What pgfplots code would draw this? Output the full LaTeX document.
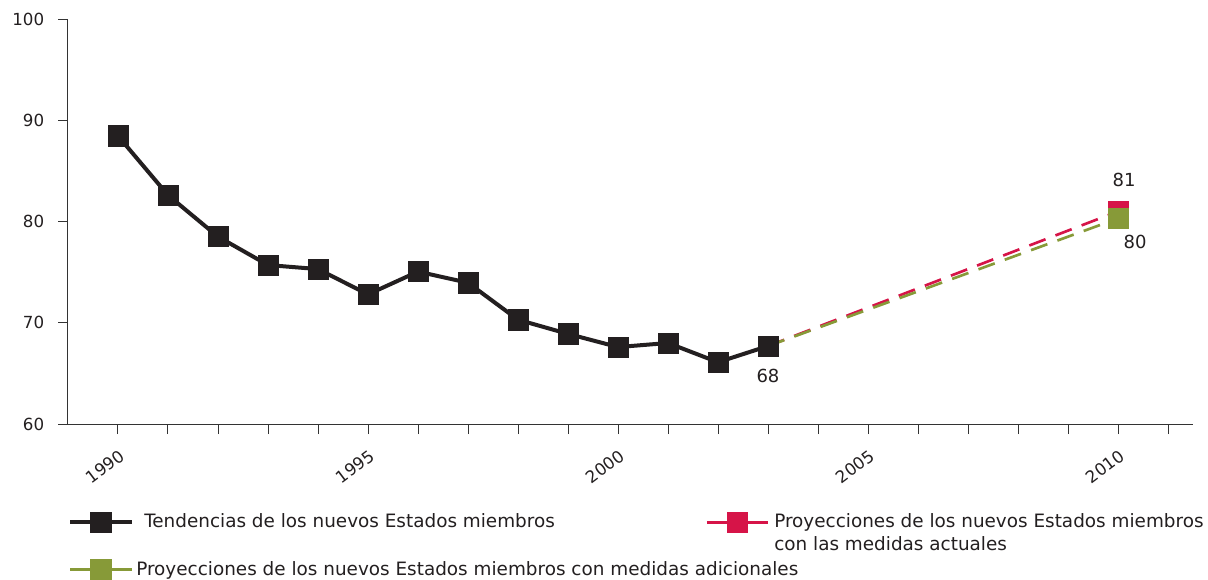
\documentclass[border=0pt]{standalone}
\usepackage{fontspec}
\setmainfont{DejaVu Sans}
\usepackage{pgfplots}
\pgfplotsset{compat=1.18}
\definecolor{ser1}{RGB}{35,31,32}
\definecolor{ser2}{RGB}{214,20,72}
\definecolor{ser3}{RGB}{135,154,56}
\definecolor{txt}{RGB}{35,31,32}
\begin{document}
\fontsize{12.5}{17}\selectfont
\begin{tikzpicture}
\begin{axis}[
 scale only axis, width=843.75pt, height=303.75pt,
 xmin=1989, xmax=2011.5, ymin=60, ymax=100,
 axis lines=left,
 axis line style={-, draw=black!80, line width=0.75pt},
 tick style={draw=black!80, line width=0.75pt},
 tick align=outside, major tick length=7.5pt, minor tick length=7.5pt,
 xtick={1990,1995,2000,2005,2010},
 xticklabels={1990,1995,2000,2005,2010},
 minor xtick={1991,1992,1993,1994,1996,1997,1998,1999,2001,2002,2003,2004,2006,2007,2008,2009,2011},
 ytick={60,70,80,90,100},
 /pgf/number format/assume math mode=true,
 ticklabel style={font=\fontsize{12.5}{15}\selectfont, text=txt},
 xticklabel style={xshift=1pt, yshift=-5pt, rotate=37, anchor=north east},
 yticklabel style={xshift=-6pt},
 clip=false,
 legend columns=2,
 legend cell align=left,
 legend style={at={(axis description cs:0,-0.215)}, anchor=north west,
   draw=none, fill=none, font=\fontsize{13.8}{17.25}\selectfont, text=txt,
   column sep=0pt, row sep=19pt, inner sep=0pt},
 legend image code/.code={\draw[#1,mark indices={2},solid] plot coordinates {(0pt,0pt) (23pt,0pt) (46pt,0pt)};},
]
\addplot[ser1, line width=3pt, mark=square*, mark size=7.6pt, mark options={solid,line width=0.5pt}]
 coordinates {(1990,88.45) (1991,82.6) (1992,78.5) (1993,75.7) (1994,75.3) (1995,72.8)
 (1996,75.05) (1997,73.95) (1998,70.3) (1999,68.9) (2000,67.6) (2001,68.0) (2002,66.1) (2003,67.7)};
\addlegendentry{\makebox[425pt][l]{\hspace{6pt}Tendencias de los nuevos Estados miembros}}
\addplot[ser2, line width=2pt, dash pattern=on 13pt off 8pt, mark=square*, mark indices={2}, mark size=7.6pt, mark options={solid,line width=0.5pt}]
 coordinates {(2003,67.7) (2010,81.0)};
\addlegendentry{\parbox[t]{330pt}{\hspace{1.5pt}Proyecciones de los nuevos Estados miembros\\\hspace*{1.5pt}con las medidas actuales}}
\addplot[ser3, line width=2pt, dash pattern=on 13pt off 8pt, mark=square*, mark indices={2}, mark size=7.6pt, mark options={solid,line width=0.5pt}]
 coordinates {(2003,67.7) (2010,80.3)};
\addlegendentry{\rlap{Proyecciones de los nuevos Estados miembros con medidas adicionales}}
\addplot[ser1, only marks, mark=square*, mark size=7.6pt, mark options={solid,line width=0.5pt}, forget plot]
 coordinates {(2003,67.7)};
\node[text=txt, font=\fontsize{13.5}{16}\selectfont] at (axis cs:2003,64.74) {68};
\node[text=txt, font=\fontsize{13.5}{16}\selectfont] at (axis cs:2010.12,84.1) {81};
\node[text=txt, font=\fontsize{13.5}{16}\selectfont] at (axis cs:2010.34,78.0) {80};
\end{axis}
\pgfresetboundingbox
\path (-51pt,-116.25pt) rectangle (855pt,318pt);
\end{tikzpicture}
\end{document}
